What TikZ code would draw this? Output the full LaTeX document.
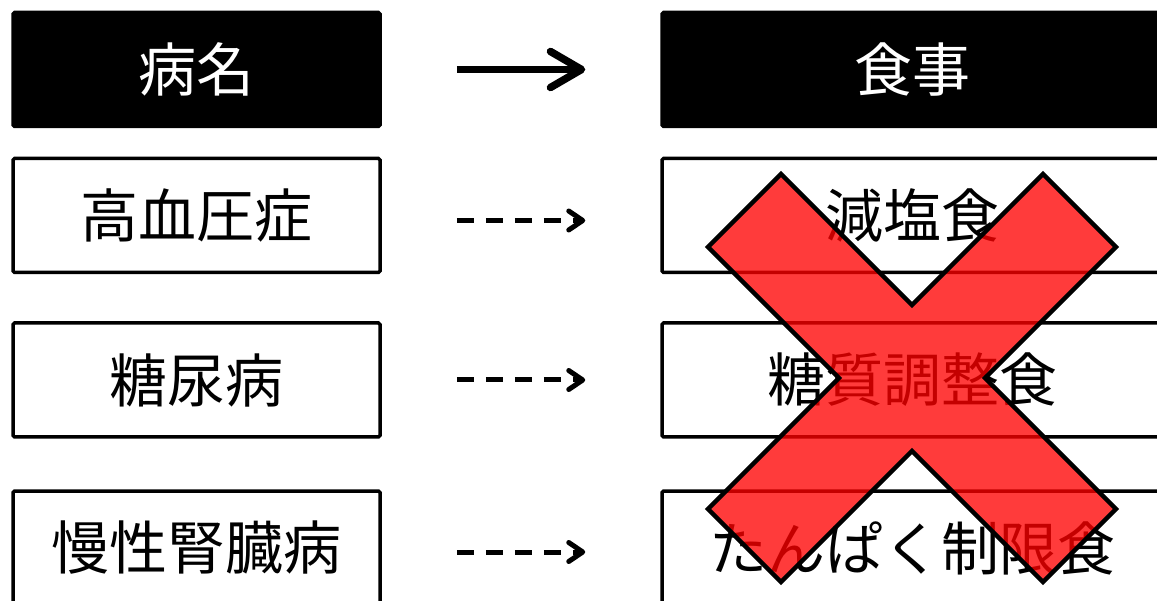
\documentclass[tikz,border=0pt]{standalone}
\usepackage{fontspec}
\setmainfont{Noto Sans CJK JP}
\usepackage{tikz}
\usetikzlibrary{arrows.meta}

\begin{document}
\begin{tikzpicture}
 [x=1pt,y=-1pt,
  box/.style={draw=black,line width=3.5pt,rounded corners=1.5pt,minimum height=114pt,
   inner sep=0pt,font=\fontsize{58}{60}\selectfont},
  lbox/.style={box,minimum width=367pt},
  rbox/.style={box,minimum width=500pt},
  hdr/.style={fill=black,text=white},
  fwd/.style={line width=7.5pt,shorten <=75pt,shorten >=75pt,
   -{Straight Barb[length=31pt,width=36pt,round]}},
  maybe/.style={line width=5pt,shorten <=75pt,shorten >=75pt,dash pattern=on 17pt off 12pt,
   -{Straight Barb[length=14pt,width=19pt,round]}},
  cross/.style={fill=red,fill opacity=0.77,draw=black,line width=4.5pt,line join=miter}]
 \useasboundingbox (0,0) rectangle (1157,601);
 \node[lbox,hdr] (hd) at (196.5,69.5) {病名};
 \node[rbox,hdr] (hm) at (912,69.5) {食事};
 \node[lbox] (d1) at (196.5,215.5) {高血圧症};
 \node[lbox] (d2) at (196.5,380) {糖尿病};
 \node[lbox] (d3) at (196.5,548) {慢性腎臓病};
 \node[rbox] (m1) at (912,215.5) {減塩食};
 \node[rbox] (m2) at (912,380) {糖質調整食};
 \node[rbox] (m3) at (912,548) {たんぱく制限食};
 \draw[fwd] (hd) -- (hm);
 \draw[maybe] ([yshift=-5pt]d1.east) -- ([yshift=-5pt]m1.west);
 \draw[maybe] (d2) -- (m2);
 \draw[maybe] ([yshift=-4pt]d3.east) -- ([yshift=-4pt]m3.west);
 % big cross over the diets
 \draw[cross,shift={(912,378)}] (-131,-204) -- (0,-73) -- (131,-204) -- (204,-131) -- (73,0)
  -- (204,131) -- (131,204) -- (0,73) -- (-131,204) -- (-204,131) -- (-73,0) -- (-204,-131) -- cycle;
\end{tikzpicture}
\end{document}
